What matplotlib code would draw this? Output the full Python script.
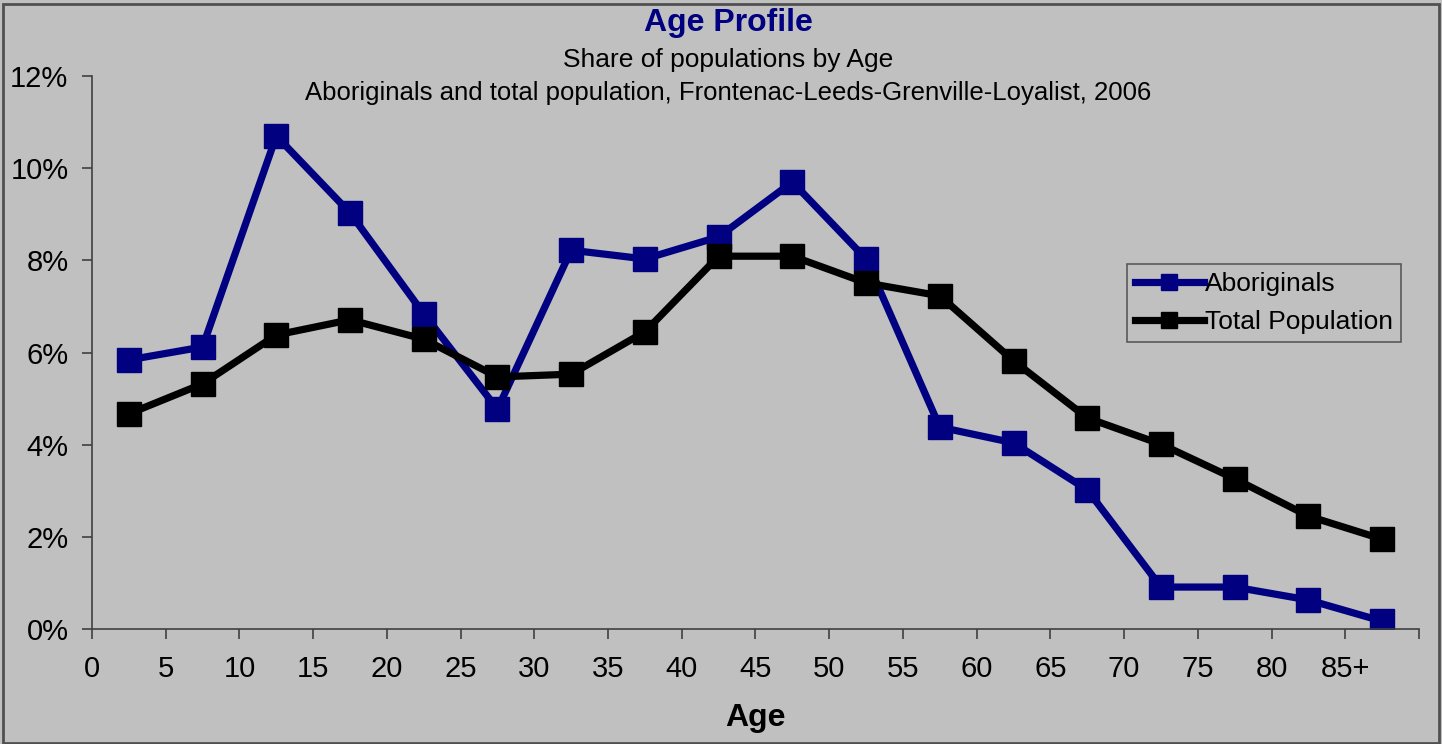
import matplotlib
matplotlib.use("Agg")
import matplotlib.pyplot as plt
from matplotlib.ticker import FixedLocator, FuncFormatter
import numpy as np

plt.rcParams['font.family'] = ['Liberation Sans', 'DejaVu Sans']

age_labels = ['0', '5', '10', '15', '20', '25', '30', '35', '40', '45',
              '50', '55', '60', '65', '70', '75', '80', '85+']
aboriginals = [5.84, 6.12, 10.70, 9.03, 6.84, 4.77, 8.22, 8.03, 8.51, 9.70,
               8.03, 4.38, 4.04, 3.02, 0.91, 0.91, 0.63, 0.17]
total_pop = [4.67, 5.32, 6.38, 6.71, 6.29, 5.47, 5.53, 6.45, 8.09, 8.09,
             7.51, 7.23, 5.82, 4.58, 4.01, 3.26, 2.45, 1.95]
y_ticks = [0, 2, 4, 6, 8, 10, 12]

bg = '#C0C0C0'
fig = plt.figure(figsize=(14.42, 7.44), dpi=100, facecolor=bg)
ax = fig.add_axes([92/1442, 1 - 629/744, (1419-92)/1442, (629-76)/744])
ax.set_facecolor(bg)

n = len(age_labels)
x = np.arange(n) + 0.5
ax.plot(x, aboriginals, color='#000080', lw=5.2, marker='s', ms=17,
        label='Aboriginals', solid_joinstyle='round')
ax.plot(x, total_pop, color='black', lw=5.2, marker='s', ms=17,
        label='Total Population', solid_joinstyle='round')

ax.set_xlim(0, n)
ax.set_ylim(0, 12)
ax.xaxis.set_major_locator(FixedLocator(np.arange(n + 1)))
ax.set_xticklabels(age_labels + [''])
ax.yaxis.set_major_locator(FixedLocator(y_ticks))
ax.yaxis.set_major_formatter(FuncFormatter(lambda v, p: f'{int(v)}%'))

for s in ['top', 'right']:
    ax.spines[s].set_visible(False)
for s in ['left', 'bottom']:
    ax.spines[s].set_color('#404040')
    ax.spines[s].set_linewidth(1.2)
ax.tick_params(axis='both', direction='out', length=7, width=1.2,
               color='#404040', labelsize=21, labelcolor='black')
ax.tick_params(axis='x', pad=12)
ax.tick_params(axis='y', pad=10)

ax.set_xlabel('Age', fontsize=23, fontweight='bold', labelpad=14)

fig.text(728/1442, 1 - 23/744, 'Age Profile', ha='center', va='center',
         fontsize=23, fontweight='bold', color='#000080')
fig.text(728/1442, 1 - 60/744, 'Share of populations by Age', ha='center', va='center',
         fontsize=19, color='black')
fig.text(728/1442, 1 - 93/744,
         'Aboriginals and total population, Frontenac-Leeds-Grenville-Loyalist, 2006',
         ha='center', va='center', fontsize=18.5, color='black')

leg = ax.legend(loc='upper left', bbox_to_anchor=((1127-92)/(1419-92), 1 - (264-76)/(629-76)),
                fontsize=19, frameon=True, fancybox=False, borderpad=0.3,
                handlelength=2.6, handletextpad=0.05, labelspacing=0.55,
                markerscale=0.7, borderaxespad=0)
leg.get_frame().set_facecolor(bg)
leg.get_frame().set_edgecolor('#404040')
leg.get_frame().set_linewidth(1.2)

# outer border
border = plt.Rectangle((0.002, 0.002), 0.996, 0.993, transform=fig.transFigure,
                       fill=False, edgecolor='#505050', lw=2)
fig.patches.append(border)

fig.savefig('out.png', dpi=100, facecolor=bg)
